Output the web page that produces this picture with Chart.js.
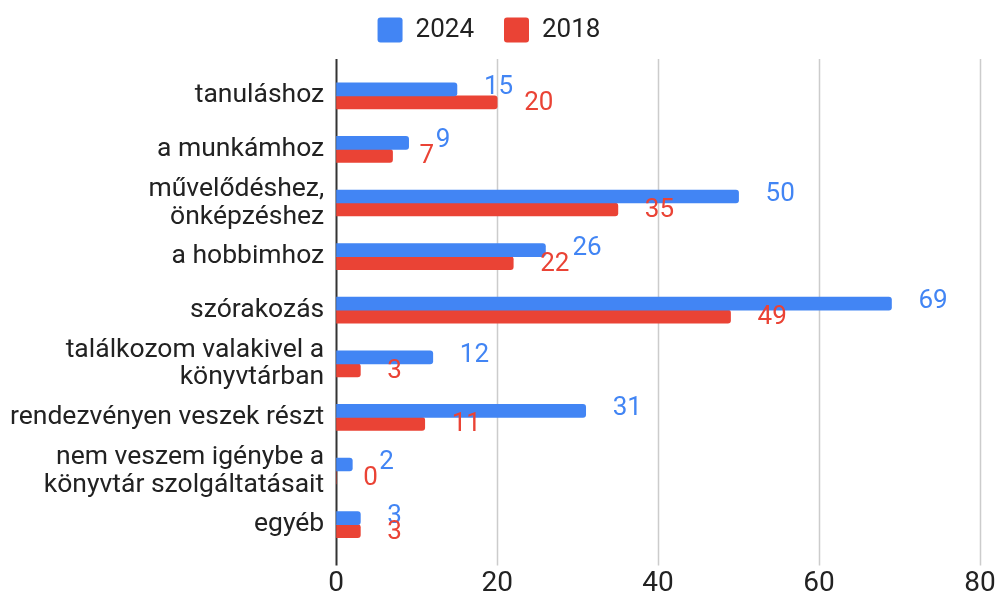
<!DOCTYPE html>
<html>
<head>
<meta charset="utf-8">
<script src="https://cdn.jsdelivr.net/npm/chart.js@4.4.1/dist/chart.umd.min.js"></script>
<style>
  html, body { margin: 0; padding: 0; background: #fff; }
  #wrap { width: 998px; height: 598px; position: relative; }
</style>
</head>
<body>
<div id="wrap"><canvas id="BarChart"></canvas></div>
<script>
const categories = [
  "tanuláshoz",
  "a munkámhoz",
  ["művelődéshez,", "önképzéshez"],
  "a hobbimhoz",
  "szórakozás",
  ["találkozom valakivel a", "könyvtárban"],
  "rendezvényen veszek részt",
  ["nem veszem igénybe a", "könyvtár szolgáltatásait"],
  "egyéb"
];
const values2024 = [15, 9, 50, 26, 69, 12, 31, 2, 3];
const values2018 = [20, 7, 35, 22, 49, 3, 11, 0, 3];
const xTicks = [0, 20, 40, 60, 80];

const BLUE = '#4285f4';
const RED = '#ea4335';

// vertical grid + axis line, a bit taller than the bar area (like the original)
const gridLines = {
  id: 'gridLines',
  beforeDatasetsDraw(chart) {
    const ctx = chart.ctx;
    const x = chart.scales.x;
    const top = chart.chartArea.top - 10;
    const bottom = chart.chartArea.bottom + 14;
    ctx.save();
    xTicks.forEach(v => {
      const px = Math.round(x.getPixelForValue(v)) + 0.5;
      ctx.beginPath();
      ctx.strokeStyle = v === 0 ? '#333' : '#cccccc';
      ctx.lineWidth = v === 0 ? 2 : 1.5;
      ctx.moveTo(px, top);
      ctx.lineTo(px, bottom);
      ctx.stroke();
    });
    ctx.restore();
  }
};

// value labels next to the end of each bar
const barLabels = {
  id: 'barLabels',
  afterDatasetsDraw(chart) {
    const ctx = chart.ctx;
    ctx.save();
    ctx.font = '26px Roboto';
    ctx.textBaseline = 'middle';
    ctx.textAlign = 'left';
    chart.data.datasets.forEach((ds, i) => {
      const meta = chart.getDatasetMeta(i);
      meta.data.forEach((bar, j) => {
        ctx.fillStyle = ds.backgroundColor;
        const dy = i === 0 ? -2 : 1;
        ctx.fillText(String(ds.data[j]), bar.x + 27, bar.y + dy);
      });
    });
    ctx.restore();
  }
};

const ctx = document.getElementById('BarChart').getContext('2d');
let chart = new Chart(ctx, {
  type: 'bar',
  data: {
    labels: categories,
    datasets: [
      { label: '2024', data: values2024, backgroundColor: BLUE, borderRadius: 3, borderSkipped: 'start' },
      { label: '2018', data: values2018, backgroundColor: RED, borderRadius: 3, borderSkipped: 'start' }
    ]
  },
  options: {
    indexAxis: 'y',
    responsive: true,
    maintainAspectRatio: false,
    animation: false,
    layout: { padding: { top: -13, right: 18, bottom: -19, left: -2 } },
    datasets: {
      bar: { barThickness: 13, categoryPercentage: 0.6, barPercentage: 0.9 }
    },
    plugins: {
      legend: {
        position: 'top',
        labels: {
          font: { family: 'Roboto', size: 26 },
          color: '#222',
          boxWidth: 25,
          boxHeight: 25,
          padding: 30,
          useBorderRadius: true,
          borderRadius: 3
        }
      },
      tooltip: { enabled: false }
    },
    scales: {
      x: {
        min: 0,
        max: 80,
        afterBuildTicks: (axis) => { axis.ticks = xTicks.map(v => ({ value: v })); },
        afterFit: (axis) => { axis.paddingRight = 0; },
        grid: { display: false, drawTicks: false },
        border: { display: false },
        ticks: { font: { family: 'Roboto', size: 28 }, color: '#222', padding: 16 }
      },
      // empty top axis, only keeps a gap between legend and bars
      gap: {
        type: 'linear',
        position: 'top',
        grid: { display: false, drawTicks: false },
        border: { display: false },
        ticks: { display: false },
        afterFit: (axis) => { axis.height = 16; }
      },
      y: {
        grid: { display: false, drawTicks: false },
        border: { display: false },
        ticks: { autoSkip: false, font: { family: 'Roboto', size: 26.5, lineHeight: 1.05 }, color: '#222', padding: 12 }
      }
    }
  },
  plugins: [gridLines, barLabels]
});
</script>
</body>
</html>
